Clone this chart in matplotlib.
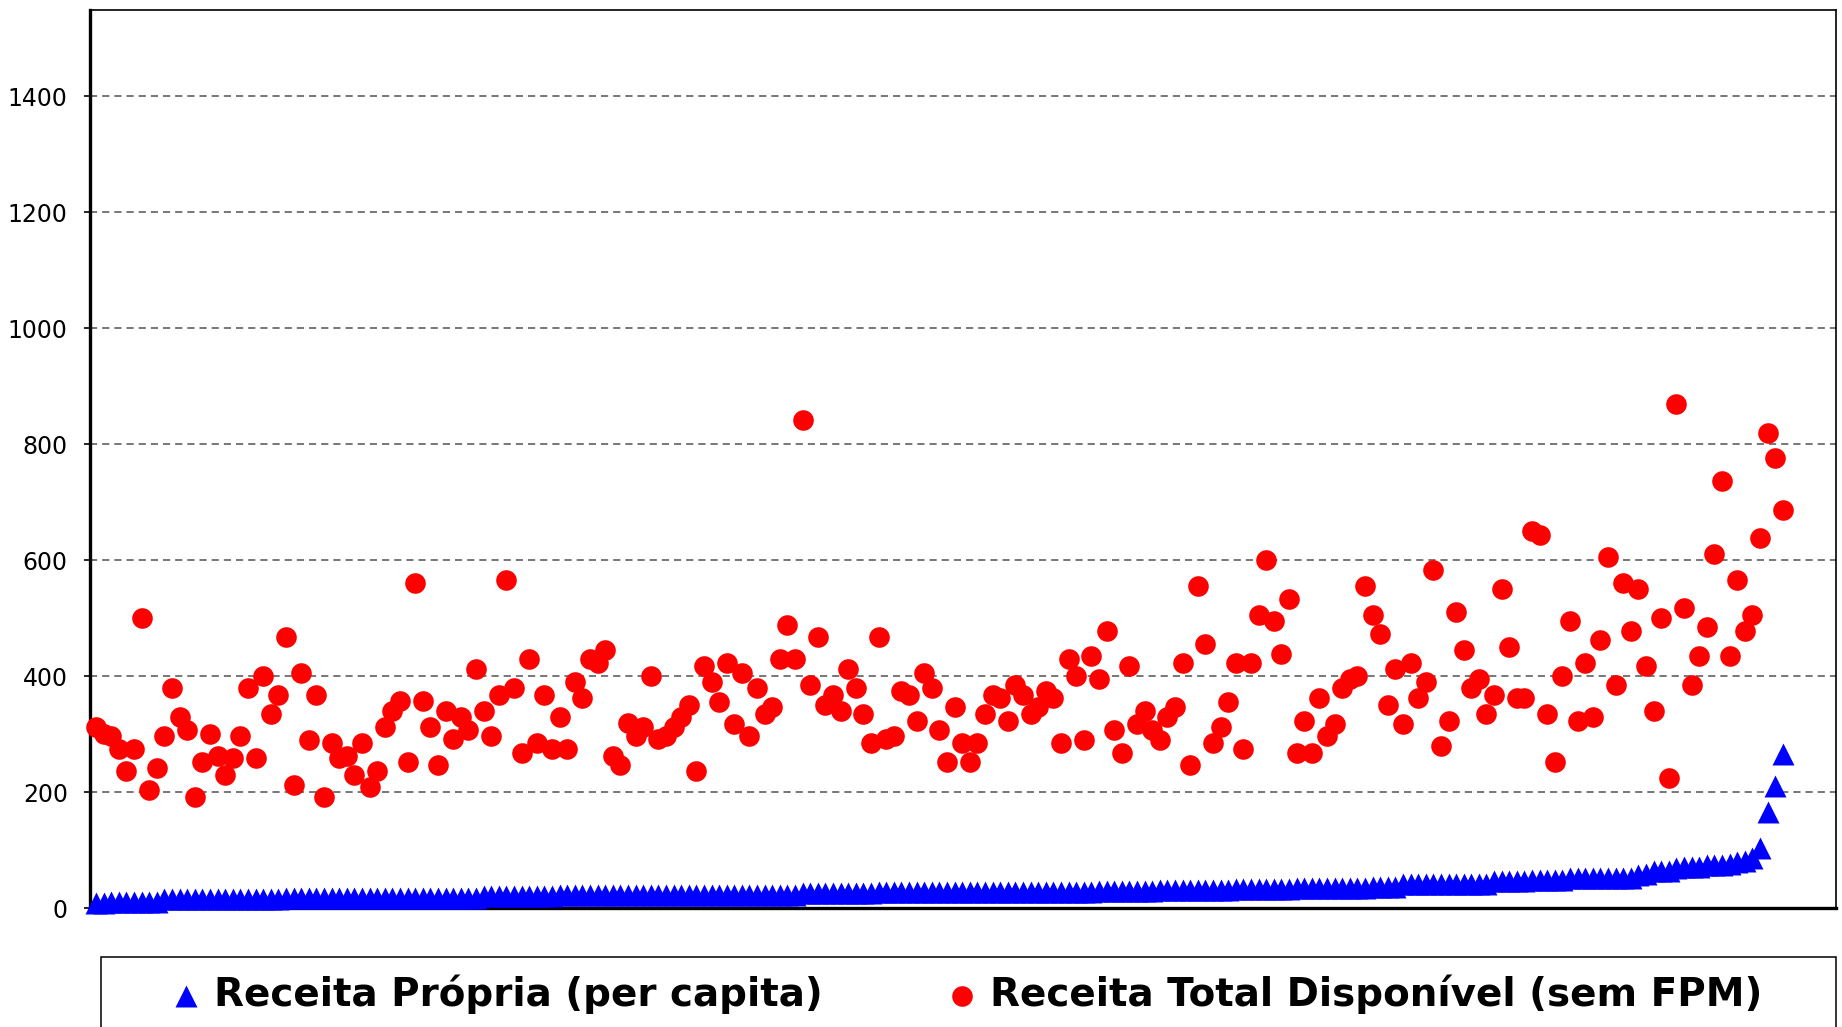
import matplotlib
matplotlib.use("Agg")
import matplotlib.pyplot as plt
from matplotlib.patches import Rectangle
import numpy as np

# ---------------- data ----------------
series_names = ["Receita Própria (per capita)", "Receita Total Disponível (sem FPM)"]

receita_propria = [
    9, 9, 10, 10, 10, 10, 11, 11, 11,
    15, 15, 15, 15, 16, 16, 16, 16, 16, 16, 16, 16, 16, 16, 16, 16,
    17, 17, 17, 17, 17, 17, 17, 17, 17, 17, 17, 17, 17, 17,
    18, 18, 18, 18, 18, 18, 18, 18, 18, 18, 18, 18,
    21, 21, 21, 21, 21, 21, 21, 21, 21, 21,
    22, 22, 22, 22, 22, 22, 22, 22, 22, 22, 22, 22, 22, 22, 22, 22,
    23, 23, 23, 23, 23, 23, 23, 23, 23, 23, 23, 23, 23, 23, 23, 23,
    26, 26, 26, 26, 26, 26, 26, 26, 26, 26,
    27, 27, 27, 27, 27, 27, 27, 27, 27, 27, 27, 27, 27, 27, 27,
    28, 28, 28, 28, 28, 28, 28, 28, 28, 28, 28, 28, 28, 28,
    30, 30, 30, 30, 30, 30, 30, 30,
    31, 31, 31, 31, 31, 31, 31, 31, 31, 31,
    32, 32, 32, 32, 32, 32, 32, 32,
    34, 34, 34, 34, 34, 35, 35, 35, 35, 35, 36, 36, 36, 36,
    41, 41, 41, 41, 41, 41, 42, 42, 42, 42, 42, 42,
    47, 47, 47, 47, 47, 48, 48, 48, 48, 48,
    51, 51, 51, 51, 52, 52, 52, 52, 52,
    57, 58,
    63, 64, 64,
    69, 70, 70, 71,
    74, 75, 75, 76,
    79, 81,
    87,
    103, 165, 210, 265,
]

receita_total = [
    313, 301, 297, 275, 236, 274, 501, 203, 241, 296,
    379, 330, 307, 191, 252, 301, 263, 230, 258, 296,
    379, 258, 401, 335, 368, 468, 213, 406, 290, 368,
    191, 285, 258, 263, 230, 285, 208, 236, 313, 340,
    357, 252, 561, 357, 313, 247, 340, 291, 329, 307,
    412, 340, 296, 368, 566, 379, 268, 429, 285, 368,
    274, 329, 274, 390, 362, 429, 423, 445, 263, 247,
    319, 296, 313, 401, 291, 296, 313, 329, 351, 236,
    418, 390, 356, 423, 318, 406, 296, 379, 335, 346,
    429, 489, 429, 842, 384, 468, 351, 368, 340, 412,
    379, 335, 285, 468, 291, 296, 374, 368, 323, 406,
    379, 307, 252, 346, 285, 252, 285, 335, 368, 362,
    323, 384, 368, 335, 346, 374, 362, 285, 429, 400,
    290, 434, 395, 478, 307, 268, 417, 318, 340, 307,
    290, 329, 346, 423, 247, 555, 456, 285, 313, 356,
    423, 274, 423, 505, 600, 495, 439, 533, 268, 323,
    268, 362, 296, 318, 379, 395, 401, 555, 505, 472,
    351, 412, 318, 423, 362, 390, 583, 280, 323, 511,
    445, 379, 395, 335, 368, 550, 450, 362, 362, 650,
    644, 335, 252, 401, 495, 323, 423, 329, 462, 605,
    384, 561, 478, 550, 417, 340, 500, 224, 869, 517,
    384, 434, 484, 611, 737, 434, 566, 478, 505, 638,
    820, 776, 687,
]

municipios = list(range(1, len(receita_total) + 1))
y_ticks = [0, 200, 400, 600, 800, 1000, 1200, 1400]

# ---------------- figure ----------------
W, H, DPI = 1842, 1027, 100
fig = plt.figure(figsize=(W / DPI, H / DPI), dpi=DPI)
fig.patch.set_facecolor("white")

left, right, top, bottom = 90, 1836, 9.5, 908
ax = fig.add_axes([left / W, 1 - bottom / H, (right - left) / W, (bottom - top) / H])
ax.set_zorder(2)

ax.scatter(municipios, receita_propria, marker="^", s=250, color="#0000FF",
           linewidths=0, zorder=3, label=series_names[0], clip_on=False)
ax.scatter(municipios, receita_total, marker="o", s=220, color="#FF0000",
           linewidths=0, zorder=4, label=series_names[1], clip_on=False)

ax.set_xlim(0.2, 230)
ax.set_ylim(0, 1550)
ax.set_yticks(y_ticks)
ax.set_yticklabels([str(v) for v in y_ticks], fontsize=17, family="DejaVu Sans")
ax.set_xticks([])

ax.set_axisbelow(True)
ax.yaxis.grid(True, color="#606060", linestyle=(0, (4.3, 3.0)), linewidth=1.2)
ax.tick_params(axis="y", direction="out", length=4, width=1.2, pad=12, colors="black")

for side in ("left", "bottom"):
    ax.spines[side].set_linewidth(2.4)
    ax.spines[side].set_color("black")
for side in ("top", "right"):
    ax.spines[side].set_linewidth(1.2)
    ax.spines[side].set_color("black")

# legend box (extends past the bottom edge of the figure, as in the reference)
box_l, box_r, box_t = 101, 1836, 957
fig.patches.append(Rectangle((box_l / W, -0.05), (box_r - box_l) / W, (1 - box_t / H) + 0.05,
                             transform=fig.transFigure, facecolor="none",
                             edgecolor="black", linewidth=1.1, zorder=-1))

leg = ax.legend(loc="upper left", bbox_to_anchor=(box_l / W, 1 - box_t / H),
                bbox_transform=fig.transFigure, ncol=2, frameon=False, scatterpoints=1,
                prop={"family": "DejaVu Sans", "weight": "bold", "size": 28},
                borderpad=0.45, handlelength=3.45, handletextpad=-1.0,
                columnspacing=1.85, borderaxespad=0)

fig.savefig("out.png", dpi=DPI, facecolor="white")
